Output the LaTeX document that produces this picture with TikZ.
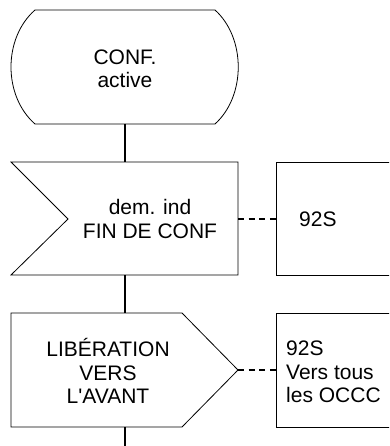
\documentclass[tikz,border=0pt]{standalone}
\usepackage{fontspec}
\setmainfont{Liberation Sans}

\begin{document}
\begin{tikzpicture}[x=1pt, y=-1pt,
  outline/.style={line width=0.8pt},
  flow/.style={line width=2pt},
  link/.style={line width=1.4pt, dash pattern=on 6pt off 4.6pt},
  label/.style={align=center, inner sep=0pt, font=\fontsize{21}{23.5}\selectfont},
  note/.style={label, align=left, anchor=west}]
\useasboundingbox (0,0) rectangle (389,446);
\clip (0,0) rectangle (389,446);
% state: CONF. active
\draw[outline] (35,10) -- (215,10) .. controls (246,38) and (246,96) .. (215,124)
  -- (35,124) .. controls (3,96) and (3,38) .. (35,10);
\node[label] (state) at (125,69) {CONF.\\active};
\coordinate (st-s) at (125,124);
% input: dem. ind FIN DE CONF
\draw[outline] (11,162) -- (238,162) -- (238,275) -- (11,275) -- (68,219) -- cycle;
\node[label] (input) at (150,219) {dem. ind\\FIN DE CONF};
\coordinate (in-n) at (125,162);
\coordinate (in-s) at (125,275);
\coordinate (in-e) at (238,219);
% comment box 92S
\draw[outline] (276,162) rectangle (400,275);
\node[note] (note1) at (299,219) {92S};
\coordinate (n1-w) at (276,219);
% output: LIBERATION VERS L'AVANT
\draw[outline] (11,313) -- (182,313) -- (238,370) -- (182,427) -- (11,427) -- cycle;
\node[label] (output) at (108,371) {LIBÉRATION\\VERS\\L\textquotesingle AVANT};
\coordinate (out-n) at (125,313);
\coordinate (out-s) at (125,427);
\coordinate (out-e) at (238,370);
% comment box 92S vers tous les OCCC
\draw[outline] (276,313) rectangle (400,427);
\node[note] (note2) at (286,372) {92S\\Vers tous\\les OCCC};
\coordinate (n2-w) at (276,370);
% flow lines
\coordinate (end) at (125,446);
\draw[flow] (st-s) -- (in-n);
\draw[flow] (in-s) -- (out-n);
\draw[flow] (out-s) -- (end);
\draw[link] (in-e) -- (n1-w);
\draw[link] (out-e) -- (n2-w);
\end{tikzpicture}
\end{document}
